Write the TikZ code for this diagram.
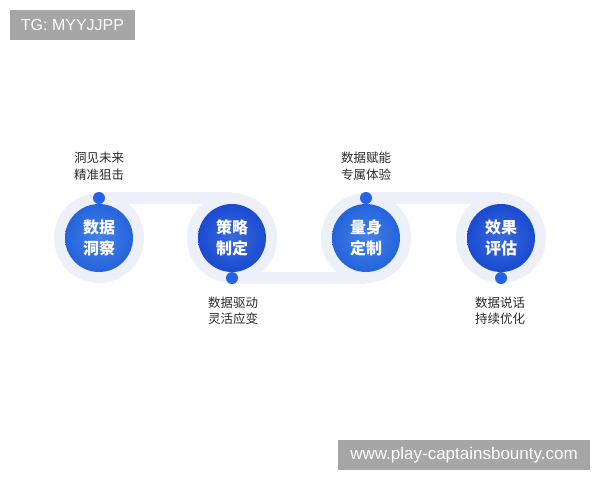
\documentclass[tikz,border=0pt]{standalone}
\usepackage{fontspec}
\setmainfont{Liberation Sans}
\newfontfamily\cjk{Noto Sans CJK SC}
\definecolor{pale}{HTML}{EDF0F8}
\definecolor{dotblue}{HTML}{2563E6}
\definecolor{blueA}{HTML}{2F74E4}
\definecolor{blueAd}{HTML}{2563DC}
\definecolor{blueB}{HTML}{2258DA}
\definecolor{blueBd}{HTML}{1A4BD0}
\definecolor{labgray}{HTML}{2B2B2B}
\definecolor{wmgray}{HTML}{A6A6A6}
\tikzset{
  ring/.style={circle, fill=pale, minimum size=90pt, inner sep=0pt},
  coreA/.style={circle, inner color=blueA!90!white, outer color=blueAd, minimum size=68pt, inner sep=0pt, text=white, font=\cjk\fontsize{16}{21}\selectfont\bfseries, align=center},
  coreB/.style={circle, inner color=blueB!90!white, outer color=blueBd, minimum size=68pt, inner sep=0pt, text=white, font=\cjk\fontsize{16}{21}\selectfont\bfseries, align=center},
  pin/.style={circle, fill=dotblue, minimum size=12pt, inner sep=0pt},
  band/.style={pale, line width=12pt},
  lab/.style={text=labgray, font=\cjk\fontsize{12.5}{16.5}\selectfont, align=center},
  wm/.style={fill=wmgray, text=white, inner sep=0pt}
}
\begin{document}
\begin{tikzpicture}[x=1pt,y=-1pt]
\useasboundingbox[fill=white] (0,0) rectangle (600,480);
% watermarks
\node[wm, minimum width=125pt, minimum height=30pt, font=\fontsize{16}{19}\selectfont] (tg) at (72.5,25) {TG: MYYJJPP};
\node[wm, minimum width=252pt, minimum height=30pt, font=\fontsize{17}{20}\selectfont] (url) at (464,455) {www.play-captainsbounty.com};
% ring positions
\coordinate (p1) at (99,238);
\coordinate (p2) at (232,238);
\coordinate (p3) at (366,238);
\coordinate (p4) at (501,238);
\coordinate (t1) at (99,198);
\coordinate (b2) at (232,278);
\coordinate (t3) at (366,198);
\coordinate (b4) at (501,278);
% bands
\draw[band] (t1) -- (t1 -| p2);
\draw[band] (b2) -- (b2 -| p3);
\draw[band] (t3) -- (t3 -| p4);
% rings
\node[ring] (r1) at (p1) {};
\node[ring] (r2) at (p2) {};
\node[ring] (r3) at (p3) {};
\node[ring] (r4) at (p4) {};
% cores
\node[coreA] (c1) at (p1) {数据\\洞察};
\node[coreB] (c2) at (p2) {策略\\制定};
\node[coreA] (c3) at (p3) {量身\\定制};
\node[coreB] (c4) at (p4) {效果\\评估};
% pins
\node[pin] (d1) at (t1) {};
\node[pin] (d2) at (b2) {};
\node[pin] (d3) at (t3) {};
\node[pin] (d4) at (b4) {};
% labels
\node[lab] (l1) at (99,166) {洞见未来\\精准狙击};
\node[lab] (l2) at (233,311) {数据驱动\\灵活应变};
\node[lab] (l3) at (366,166) {数据赋能\\专属体验};
\node[lab] (l4) at (500,311) {数据说话\\持续优化};
\end{tikzpicture}
\end{document}
